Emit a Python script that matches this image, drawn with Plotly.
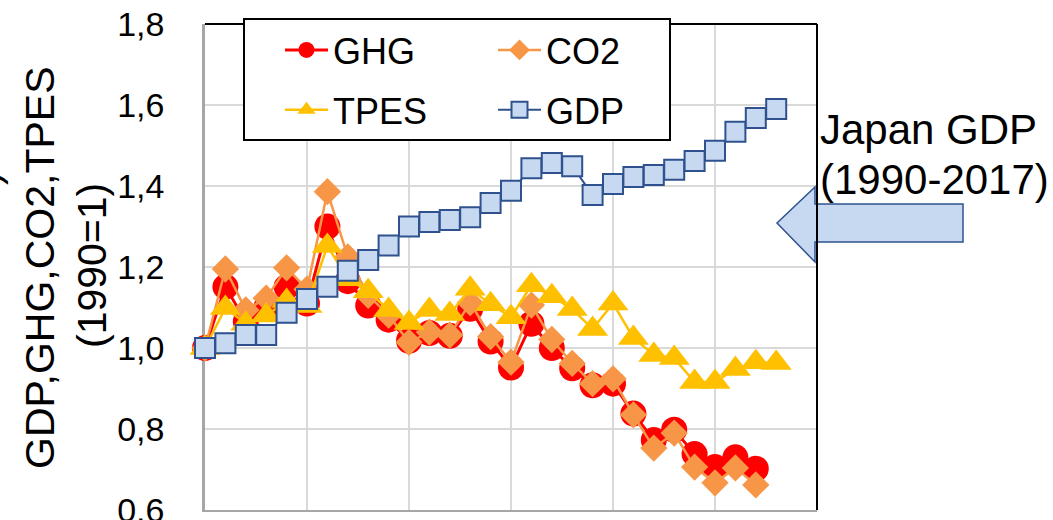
import plotly.graph_objects as go

# Years 1990-2018 (index values, 1990 = 1)
years = list(range(1990, 2019))

ghg = [1.000, 1.151, 1.065, 1.100, 1.151, 1.110, 1.300, 1.165, 1.105, 1.070,
       1.018, 1.037, 1.030, 1.097, 1.016, 0.952, 1.060, 1.000, 0.950, 0.908,
       0.912, 0.838, 0.773, 0.798, 0.738, 0.706, 0.730, 0.702, None]
co2 = [1.000, 1.195, 1.094, 1.123, 1.198, 1.145, 1.386, 1.225, 1.130, 1.081,
       1.014, 1.039, 1.032, 1.112, 1.028, 0.965, 1.106, 1.021, 0.962, 0.912,
       0.924, 0.835, 0.753, 0.790, 0.706, 0.667, 0.704, 0.662, None]
tpes = [1.000, 1.099, 1.060, 1.080, 1.116, 1.104, 1.252, 1.170, 1.140, 1.094,
        1.062, 1.094, 1.084, 1.146, 1.108, 1.076, 1.155, 1.128, 1.096, 1.047,
        1.110, 1.025, 0.983, 0.975, 0.916, 0.916, 0.948, 0.965, 0.963]
gdp = [1.000, 1.012, 1.032, 1.032, 1.087, 1.121, 1.151, 1.191, 1.217, 1.253,
       1.300, 1.311, 1.316, 1.323, 1.358, 1.388, 1.444, 1.457, 1.449, 1.378,
       1.405, 1.422, 1.427, 1.440, 1.462, 1.487, 1.534, 1.568, 1.590]

y_ticks = [0.6, 0.8, 1.0, 1.2, 1.4, 1.6, 1.8]

FONT = "Arial, Liberation Sans, sans-serif"
W, H = 1053, 520
PL, PR, PT, PB = 205, 817, 24, 510  # plot area in pixels


def fx(px):
    return (px - PL) / (PR - PL)


def fy(py):
    return (PB - py) / (PB - PT)


fig = go.Figure()

fig.add_trace(go.Scatter(
    x=years, y=ghg, name="GHG", mode="lines+markers", cliponaxis=False,
    line=dict(color="#ff0000", width=3),
    marker=dict(symbol="circle", size=26, color="#ff0000"),
    legend="legend", legendgroup="a",
))
fig.add_trace(go.Scatter(
    x=years, y=co2, name="CO2", mode="lines+markers", cliponaxis=False,
    line=dict(color="#f79646", width=2.5),
    marker=dict(symbol="diamond", size=21, color="#f79646"),
    legend="legend2", legendgroup="b",
))
fig.add_trace(go.Scatter(
    x=years, y=tpes, name="TPES", mode="lines+markers", cliponaxis=False,
    line=dict(color="#ffc000", width=2.5),
    marker=dict(symbol="triangle-up", size=27, color="#ffc000"),
    legend="legend", legendgroup="c",
))
fig.add_trace(go.Scatter(
    x=years, y=gdp, name="GDP", mode="lines+markers", cliponaxis=False,
    line=dict(color="#2f528f", width=2),
    marker=dict(symbol="square", size=20, color="#c6d9f1",
                line=dict(color="#2f528f", width=2)),
    legend="legend2", legendgroup="d",
))

legend_common = dict(
    y=fy(20), xanchor="left", yanchor="top",
    bgcolor="rgba(0,0,0,0)", borderwidth=0,
    font=dict(family=FONT, size=36, color="#000000"),
    itemwidth=43, traceorder="grouped", tracegroupgap=10,
)

shapes = [
    # block arrow pointing at the GDP series
    dict(type="path", xref="paper", yref="paper", layer="above",
         path=(f"M{fx(777)},{fy(223)} L{fx(815)},{fy(187)} L{fx(815)},{fy(204)} "
               f"L{fx(963)},{fy(204)} L{fx(963)},{fy(242)} L{fx(815)},{fy(242)} "
               f"L{fx(815)},{fy(262)} Z"),
         fillcolor="#c6d9f1", line=dict(color="#2f528f", width=1.5)),
    # top and right frame of the plot area
    dict(type="line", xref="paper", yref="paper", layer="above",
         x0=0, x1=1, y0=1, y1=1, line=dict(color="#000000", width=2)),
    dict(type="line", xref="paper", yref="paper", layer="above",
         x0=1, x1=1, y0=0, y1=1, line=dict(color="#000000", width=2)),
    # legend box
    dict(type="rect", xref="paper", yref="paper", layer="above",
         x0=fx(244), x1=fx(670), y0=fy(140), y1=fy(19),
         fillcolor="#ffffff", line=dict(color="#000000", width=2)),
]

annotations = [
    dict(text="GDP,GHG,CO2,TPES", textangle=-90, x=fx(40), y=fy(268),
         xref="paper", yref="paper", showarrow=False,
         xanchor="center", yanchor="middle",
         font=dict(family=FONT, size=41, color="#000000")),
    dict(text="(1990=1)", textangle=-90, x=fx(92), y=fy(266),
         xref="paper", yref="paper", showarrow=False,
         xanchor="center", yanchor="middle",
         font=dict(family=FONT, size=41, color="#000000")),
    dict(text=")", textangle=-90, x=fx(-14), y=fy(178),
         xref="paper", yref="paper", showarrow=False,
         xanchor="center", yanchor="middle",
         font=dict(family=FONT, size=41, color="#000000")),
    dict(text="Japan GDP", x=fx(818), y=fy(129),
         xref="paper", yref="paper", showarrow=False,
         xanchor="left", yanchor="middle",
         font=dict(family=FONT, size=42, color="#000000")),
    dict(text="(1990-2017)", x=fx(818), y=fy(179),
         xref="paper", yref="paper", showarrow=False,
         xanchor="left", yanchor="middle",
         font=dict(family=FONT, size=42, color="#000000")),
]

fig.update_layout(
    width=W, height=H,
    margin=dict(l=PL, r=W - PR, t=PT, b=H - PB, pad=0),
    paper_bgcolor="#ffffff", plot_bgcolor="#ffffff",
    separators=",.",
    font=dict(family=FONT, color="#000000"),
    legend=dict(x=fx(280), **legend_common),
    legend2=dict(x=fx(493), **legend_common),
    shapes=shapes,
    annotations=annotations,
    xaxis=dict(range=[1990, 2020], tick0=1990, dtick=5, showticklabels=False,
               showgrid=True, gridcolor="#d9d9d9", gridwidth=2,
               zeroline=False, showline=True, linecolor="#a6a6a6", linewidth=2,
               ticks="", layer="below traces", fixedrange=True),
    yaxis=dict(range=[0.6, 1.8], tickvals=y_ticks, tickformat=".1f",
               showgrid=True, gridcolor="#d9d9d9", gridwidth=2,
               zeroline=False, showline=True, linecolor="#a6a6a6", linewidth=2.5,
               ticks="", ticklabelstandoff=31, ticklabeloverflow="allow",
               tickfont=dict(family=FONT, size=34, color="#000000"),
               layer="below traces", automargin=False, fixedrange=True),
)

fig.write_html("out.html")
